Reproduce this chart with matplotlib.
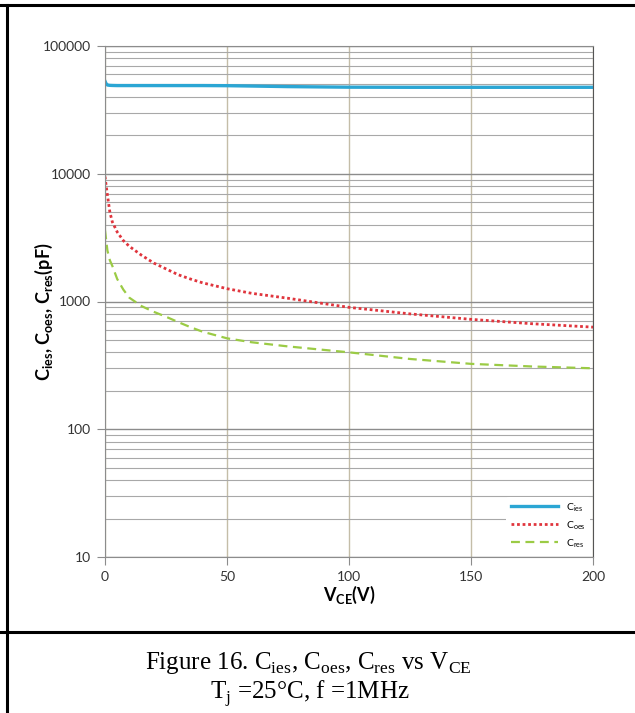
import matplotlib
matplotlib.use('Agg')
import matplotlib.pyplot as plt
from matplotlib.lines import Line2D
from matplotlib.ticker import FixedLocator, FuncFormatter, NullFormatter

plt.rcParams.update({
    'font.family': ['Lato', 'DejaVu Sans'],
})

# data
vce = [0, 0.5, 1, 2, 3, 5, 7.5, 10, 15, 20, 25, 30, 35, 40, 50, 60, 75, 100, 125, 150, 175, 200]
cies = [53000, 50500, 49500, 49200, 49100, 49000, 49000, 49000, 49000, 49000, 49000, 49000, 49000,
        49000, 48900, 48600, 48100, 47600, 47500, 47500, 47500, 47500]
coes = [9500, 8000, 6800, 5000, 4200, 3500, 3000, 2700, 2300, 2000, 1800, 1620, 1500, 1400,
        1260, 1160, 1060, 900, 800, 725, 670, 630]
cres = [3600, 3000, 2500, 2100, 1900, 1500, 1240, 1070, 920, 830, 760, 690, 630, 580,
        515, 480, 445, 400, 355, 325, 310, 300]
xticks = [0, 50, 100, 150, 200]
yticks = [10, 100, 1000, 10000, 100000]

BLUE = '#2BA6D4'; RED = '#E0353D'; GREEN = '#9BCB45'

fig = plt.figure(figsize=(6.35, 7.13), dpi=100)
ax = fig.add_axes([105/635, 1-557/713, 488/635, 511/713])

ax.plot(vce, cies, color=BLUE, lw=2.4, label='C$_\\mathregular{ies}$')
ax.plot(vce, coes, color=RED, lw=2.0, ls=(0, (1, 1)), label='C$_\\mathregular{oes}$')
ax.plot(vce, cres, color=GREEN, lw=1.6, ls=(0, (4, 2.5)), label='C$_\\mathregular{res}$')

ax.set_yscale('log')
ax.set_xlim(0, 200); ax.set_ylim(10, 100000)
ax.yaxis.set_major_locator(FixedLocator(yticks))
ax.yaxis.set_major_formatter(FuncFormatter(lambda v, p: f'{int(round(v))}'))
ax.yaxis.set_minor_formatter(NullFormatter())
ax.set_xticks(xticks)

ax.grid(which='major', axis='y', color='#8C8C8C', lw=1.0)
ax.grid(which='minor', axis='y', color='#A8A8A8', lw=0.8)
ax.grid(which='major', axis='x', color='#C4BDA8', lw=1.0)
ax.set_axisbelow(True)
ax.tick_params(which='minor', length=0)
ax.tick_params(which='major', length=6, width=0.8, color='#8C8C8C', labelsize=10, labelcolor='#333333', pad=4)
for s in ['left', 'bottom', 'top']:
    ax.spines[s].set_color('#8C8C8C')
ax.spines['right'].set_color('#555555')

ax.set_xlabel('V$_\\mathregular{CE}$(V)', fontsize=13, fontweight='bold', labelpad=1)
ax.set_ylabel('C$_\\mathregular{ies}$, C$_\\mathregular{oes}$, C$_\\mathregular{res}$(pF)',
              fontsize=13, fontweight='bold')
ax.yaxis.set_label_coords(-0.102, 0.48)

leg = ax.legend(loc='lower right', bbox_to_anchor=(1.0, 0.0), fontsize=7.5, frameon=True,
                handlelength=4.5, labelspacing=0.5, borderaxespad=0.3)
leg.get_frame().set_facecolor('white'); leg.get_frame().set_edgecolor('none')
leg.get_frame().set_alpha(1.0)

# table frame around the figure
fig.add_artist(Line2D([0, 1], [1-5/713]*2, color='black', lw=2.2, transform=fig.transFigure))
fig.add_artist(Line2D([7/635]*2, [0, 1-5/713], color='black', lw=2.2, transform=fig.transFigure))
fig.add_artist(Line2D([0, 1], [1-632/713]*2, color='black', lw=2.2, transform=fig.transFigure))

fig.text(308/635, 1-663/713, 'Figure 16. C$_\\mathregular{ies}$, C$_\\mathregular{oes}$, C$_\\mathregular{res}$ vs V$_\\mathregular{CE}$',
         ha='center', va='center', fontsize=18, family='Liberation Serif')
fig.text(310/635, 1-694/713, 'T$_\\mathregular{j}$ =25°C, f =1MHz',
         ha='center', va='center', fontsize=18, family='Liberation Serif')

fig.savefig('out.png', dpi=100)
